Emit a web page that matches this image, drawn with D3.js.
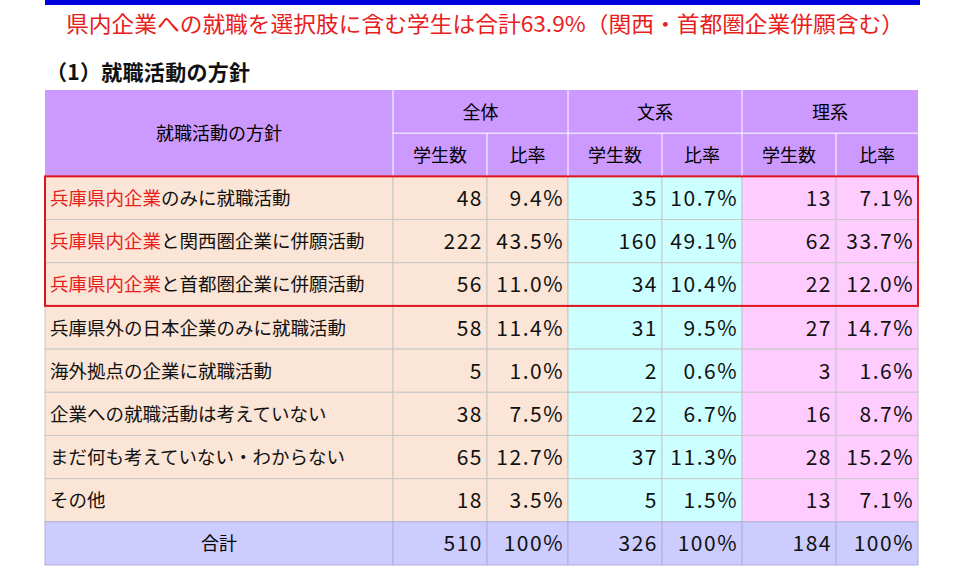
<!DOCTYPE html><html><head><meta charset="utf-8"><script src="https://cdn.jsdelivr.net/npm/d3@7"></script>
<style>body{margin:0;background:#fff}text{font-family:"Noto Sans CJK JP",sans-serif}</style></head><body><svg id="c" width="960" height="583"></svg>
<script>
const categories=["兵庫県内企業のみに就職活動","兵庫県内企業と関西圏企業に併願活動","兵庫県内企業と首都圏企業に併願活動","兵庫県外の日本企業のみに就職活動","海外拠点の企業に就職活動","企業への就職活動は考えていない","まだ何も考えていない・わからない","その他"];
const redPrefix=[true,true,true,false,false,false,false,false];
const allN=[48,222,56,58,5,38,65,18], allP=["9.4%","43.5%","11.0%","11.4%","1.0%","7.5%","12.7%","3.5%"];
const bunN=[35,160,34,31,2,22,37,5], bunP=["10.7%","49.1%","10.4%","9.5%","0.6%","6.7%","11.3%","1.5%"];
const riN=[13,62,22,27,3,16,28,13], riP=["7.1%","33.7%","12.0%","14.7%","1.6%","8.7%","15.2%","7.1%"];
const totals=["510","100%","326","100%","184","100%"];
const groups=["全体","文系","理系"], subHeads=["学生数","比率"];
const svg=d3.select("#c");
svg.append("rect").attr("x",45).attr("y",0).attr("width",875).attr("height",5).attr("fill","#0000dd");
svg.append("text").attr("x",66).attr("y",32).attr("textLength",838).attr("lengthAdjust","spacingAndGlyphs").attr("font-size",22).attr("fill","#e8201c").text("県内企業への就職を選択肢に含む学生は合計63.9%（関西・首都圏企業併願含む）");
svg.append("text").attr("x",46).attr("y",80).attr("textLength",204).attr("font-size",21).attr("font-weight","bold").attr("fill","#111").text("（1）就職活動の方針");
const xs=[45,393,487,568,662,742,836,918];
const rowIdx=d3.range(categories.length+3);
const y=d3.scaleBand().domain(rowIdx).range([90,565]);
const rh=y.bandwidth();
const colColors=["#fbe5d6","#fbe5d6","#fbe5d6","#ccffff","#ccffff","#ffccff","#ffccff"];
const g=svg.append("g");
g.append("rect").attr("x",45).attr("y",y(0)).attr("width",873).attr("height",2*rh).attr("fill","#cc99ff");
g.append("text").attr("x",(45+393)/2).attr("y",y(1)+7).attr("text-anchor","middle").attr("font-size",18).text("就職活動の方針");
groups.forEach((t,i)=>{g.append("text").attr("x",(xs[1+2*i]+xs[3+2*i])/2).attr("y",y(0)+rh/2+7).attr("text-anchor","middle").attr("font-size",18).text(t);
 subHeads.forEach((s,j)=>g.append("text").attr("x",(xs[1+2*i+j]+xs[2+2*i+j])/2).attr("y",y(1)+rh/2+7).attr("text-anchor","middle").attr("font-size",18).text(s));});
g.append("line").attr("x1",393).attr("x2",918).attr("y1",y(1)).attr("y2",y(1)).attr("stroke","#fff");
[1,3,5].forEach(k=>g.append("line").attr("x1",xs[k]).attr("x2",xs[k]).attr("y1",y(0)).attr("y2",y(2)).attr("stroke","#fff"));
[2,4,6].forEach(k=>g.append("line").attr("x1",xs[k]).attr("x2",xs[k]).attr("y1",y(1)).attr("y2",y(2)).attr("stroke","#fff"));
const numStyle=s=>s.attr("text-anchor","end").attr("font-size",21).attr("letter-spacing",1.5).attr("fill","#111");
categories.forEach((c,r)=>{
 const yy=y(r+2);
 for(let k=0;k<7;k++) g.append("rect").attr("x",xs[k]).attr("y",yy).attr("width",xs[k+1]-xs[k]).attr("height",rh).attr("fill",colColors[k]).attr("stroke","#c8c8c8").attr("stroke-width",1);
 const t=g.append("text").attr("x",50).attr("y",yy+rh/2+7).attr("font-size",18.5).attr("fill","#111");
 if(redPrefix[r]){t.append("tspan").attr("fill","#e8201c").text("兵庫県内企業");t.append("tspan").text(c.slice(6));} else t.text(c);
 const vals=[allN[r],allP[r],bunN[r],bunP[r],riN[r],riP[r]];
 vals.forEach((v,k)=>numStyle(g.append("text").attr("x",xs[k+2]-4).attr("y",yy+rh/2+8)).text(v));
});
const ty=y(categories.length+2);
for(let k=0;k<7;k++) g.append("rect").attr("x",xs[k]).attr("y",ty).attr("width",xs[k+1]-xs[k]).attr("height",rh).attr("fill","#ccccff").attr("stroke","#b0b0d8");
g.append("text").attr("x",(45+393)/2).attr("y",ty+rh/2+7).attr("text-anchor","middle").attr("font-size",18).text("合計");
totals.forEach((v,k)=>numStyle(g.append("text").attr("x",xs[k+2]-4).attr("y",ty+rh/2+8)).text(v));
svg.append("rect").attr("x",45).attr("y",y(2)).attr("width",873).attr("height",3*rh).attr("fill","none").attr("stroke","#e0141e").attr("stroke-width",2);
</script></body></html>
